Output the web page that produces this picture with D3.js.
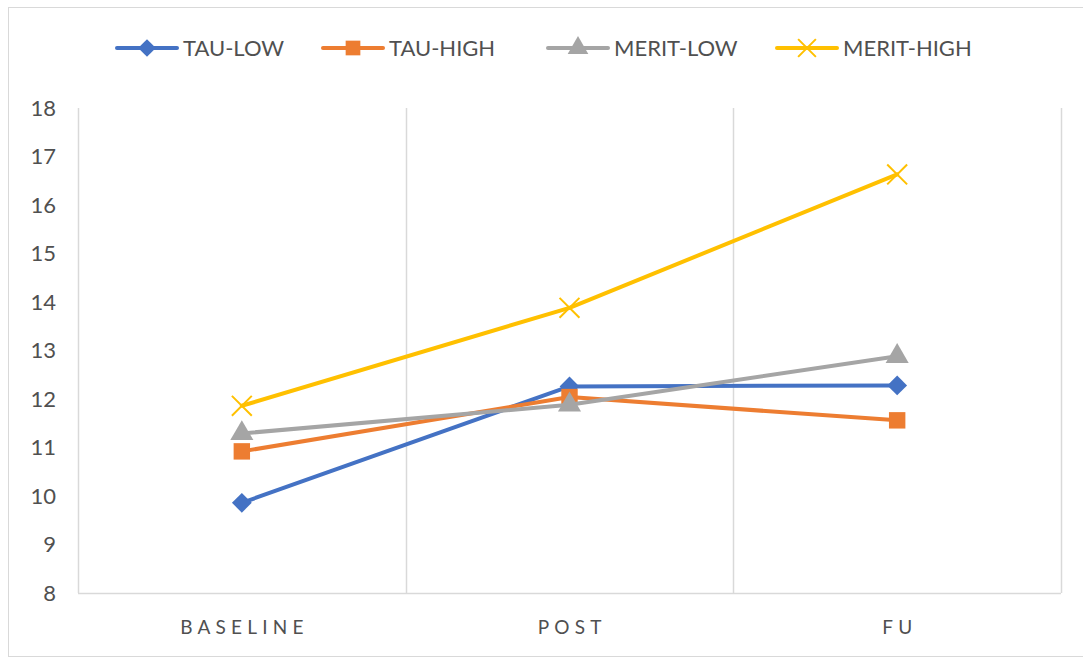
<!DOCTYPE html>
<html>
<head>
<meta charset="utf-8">
<script src="https://cdn.jsdelivr.net/npm/d3@7"></script>
<style>
  body { margin: 0; background: #fff; }
  text { font-family: Lato, "Open Sans", sans-serif; fill: #505050; }
</style>
</head>
<body>
<svg id="chart" width="1083" height="658"></svg>
<script>
//chart data
const categories = ["BASELINE", "POST", "FU"]
const seriesNames = ["TAU-LOW", "TAU-HIGH", "MERIT-LOW", "MERIT-HIGH"]
const tauLow = [9.86, 12.26, 12.28]
const tauHigh = [10.92, 12.04, 11.56]
const meritLow = [11.29, 11.88, 12.88]
const meritHigh = [11.86, 13.88, 16.63]
const yTicks = [8, 9, 10, 11, 12, 13, 14, 15, 16, 17, 18]

const colors = ["#4472C4", "#ED7D31", "#A5A5A5", "#FFC000"]
const symbols = [d3.symbolDiamond2, d3.symbolSquare, d3.symbolTriangle, d3.symbolX]

const series = seriesNames.map((name, i) => ({
  name: name,
  values: [tauLow, tauHigh, meritLow, meritHigh][i],
  color: colors[i],
  symbol: symbols[i]
}))

const svg = d3.select("#chart")
const margin = { left: 78, right: 22, top: 108, bottom: 65 }
const width = +svg.attr("width"), height = +svg.attr("height")

//outer chart border
svg.append("rect").attr("x", 8.5).attr("y", 7.5).attr("width", 1090).attr("height", 649)
  .attr("fill", "none").attr("stroke", "#d9d9d9")

const x = d3.scaleBand().domain(categories).range([margin.left, width - margin.right])
const y = d3.scaleLinear().domain([8, 18]).range([height - margin.bottom, margin.top])

//vertical gridlines between categories + frame
const gridX = [margin.left, width - margin.right].concat(categories.slice(1).map(c => x(c)))
svg.append("g").selectAll("line").data(gridX).enter().append("line")
  .attr("x1", d => Math.round(d) + 0.5).attr("x2", d => Math.round(d) + 0.5)
  .attr("y1", y(18)).attr("y2", y(8))
  .attr("stroke", "#d9d9d9").attr("stroke-width", 1.5)

//x axis line
svg.append("line")
  .attr("x1", margin.left).attr("x2", width - margin.right)
  .attr("y1", y(8) + 0.5).attr("y2", y(8) + 0.5)
  .attr("stroke", "#d9d9d9").attr("stroke-width", 1.5)

//y axis labels
const yAxis = svg.append("g").attr("transform", "translate(" + (margin.left - 22) + ",0)")
  .call(d3.axisLeft(y).tickValues(yTicks).tickSize(0).tickPadding(0))
yAxis.select(".domain").remove()
yAxis.selectAll("text").style("font-size", "22px").attr("fill", "#505050")
  .style("font-family", "Lato, 'Open Sans', sans-serif")

//x axis labels
const xAxis = svg.append("g").attr("transform", "translate(0," + (y(8) + 27) + ")")
  .call(d3.axisBottom(x).tickSize(0).tickPadding(0))
xAxis.select(".domain").remove()
xAxis.selectAll("text").style("font-size", "19px").style("letter-spacing", "5.2px")
  .attr("dx", "2.6px")
  .attr("fill", "#505050").style("font-family", "Lato, 'Open Sans', sans-serif")

const cx = c => x(c) + x.bandwidth() / 2
const line = d3.line().x((d, i) => cx(categories[i])).y(d => y(d))

const markerSize = s => s === d3.symbolX ? 260 : s === d3.symbolTriangle ? 230 : s === d3.symbolSquare ? 270 : 250

series.forEach(s => {
  svg.append("path").datum(s.values).attr("d", line)
    .attr("fill", "none").attr("stroke", s.color).attr("stroke-width", 4)
    .attr("stroke-linejoin", "round").attr("stroke-linecap", "round")
  const isX = s.symbol === d3.symbolX
  svg.append("g").selectAll("path").data(s.values).enter().append("path")
    .attr("transform", (d, i) => "translate(" + cx(categories[i]) + "," + y(d) + ")")
    .attr("d", d3.symbol().type(s.symbol).size(markerSize(s.symbol)))
    .attr("fill", isX ? "none" : s.color)
    .attr("stroke", s.color).attr("stroke-width", isX ? 2 : 0)
})

//legend
const legendX = [117, 323, 548, 777]
const legend = svg.append("g").selectAll("g").data(series).enter().append("g")
  .attr("transform", (d, i) => "translate(" + legendX[i] + ",48)")
legend.append("line").attr("x1", 0).attr("x2", 60)
  .attr("stroke", d => d.color).attr("stroke-width", 4).attr("stroke-linecap", "round")
legend.append("path").attr("transform", "translate(30,0)")
  .attr("d", d => d3.symbol().type(d.symbol).size(markerSize(d.symbol) * 0.8)())
  .attr("fill", d => d.symbol === d3.symbolX ? "none" : d.color)
  .attr("stroke", d => d.color).attr("stroke-width", d => d.symbol === d3.symbolX ? 2 : 0)
legend.append("text").attr("x", 66).attr("dy", "0.36em")
  .style("font-size", "22px").text(d => d.name)
</script>
</body>
</html>
